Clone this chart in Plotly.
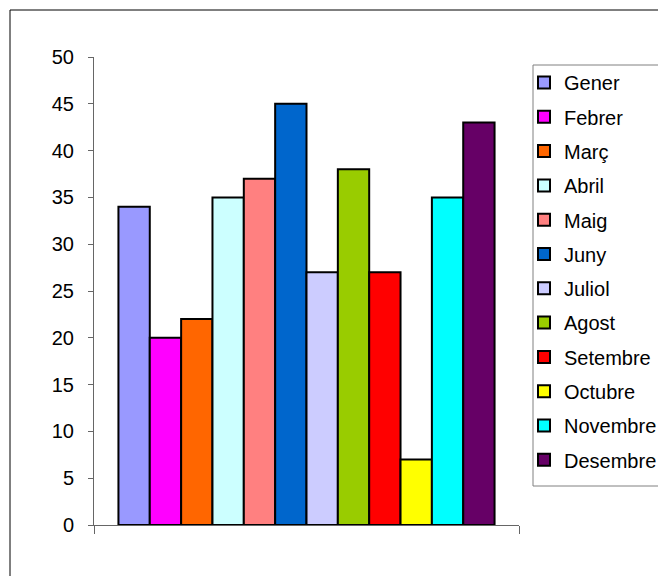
import plotly.graph_objects as go

months = ["Gener", "Febrer", "Març", "Abril", "Maig", "Juny", "Juliol",
          "Agost", "Setembre", "Octubre", "Novembre", "Desembre"]
values = [34, 20, 22, 35, 37, 45, 27, 38, 27, 7, 35, 43]
colors = ["#9999FF", "#FF00FF", "#FF6600", "#CCFFFF", "#FF8080", "#0066CC",
          "#CCCCFF", "#99CC00", "#FF0000", "#FFFF00", "#00FFFF", "#660066"]
category = ["1"]

fig = go.Figure()
for m, v, c in zip(months, values, colors):
    fig.add_trace(go.Bar(
        x=category, y=[v], name=m, legendgroup=m,
        marker=dict(color=c, line=dict(color="black", width=2)),
    ))

OFF = 8  # page body margin
W, H = 666, 576
L, R, T, B = 94 - OFF, 519 - OFF, 57 - OFF, 525 - OFF
pw, ph = R - L, B - T


def px_x(x):
    return (x - OFF - L) / pw


def px_y(y):
    return (B - (y - OFF)) / ph


fig.update_layout(
    width=W, height=H,
    margin=dict(l=L, r=W - R, t=T, b=H - B, autoexpand=False),
    barmode="group", bargap=0.115, bargroupgap=0,
    plot_bgcolor="white", paper_bgcolor="white",
    font=dict(family="Liberation Sans, Arial, sans-serif", size=20, color="black"),
    xaxis=dict(range=[-0.5, 0.5], showticklabels=False, ticks="outside",
               tickson="boundaries", ticklen=8, tickcolor="#666666",
               showline=True, linecolor="#666666", linewidth=1,
               showgrid=False, zeroline=False, fixedrange=True),
    yaxis=dict(range=[0, 50], dtick=5, ticks="outside", ticklen=5,
               tickcolor="#666666", showline=True, linecolor="#666666",
               linewidth=1, showgrid=False, zeroline=False,
               tickfont=dict(size=20), ticklabelstandoff=10),
    legend=dict(x=px_x(524), y=px_y(63),
                xanchor="left", yanchor="top",
                borderwidth=0, bgcolor="rgba(0,0,0,0)",
                font=dict(size=20), tracegroupgap=5.3, traceorder="grouped",
                itemwidth=30),
    showlegend=True,
    shapes=[
        dict(type="rect", xref="paper", yref="paper",
             x0=px_x(10), x1=2, y0=-1, y1=px_y(10),
             line=dict(color="black", width=1), layer="below"),
        dict(type="rect", xref="paper", yref="paper",
             x0=px_x(533), x1=2, y0=px_y(486), y1=px_y(65),
             line=dict(color="#808080", width=1), layer="above"),
    ],
)

fig.write_html("out.html")
